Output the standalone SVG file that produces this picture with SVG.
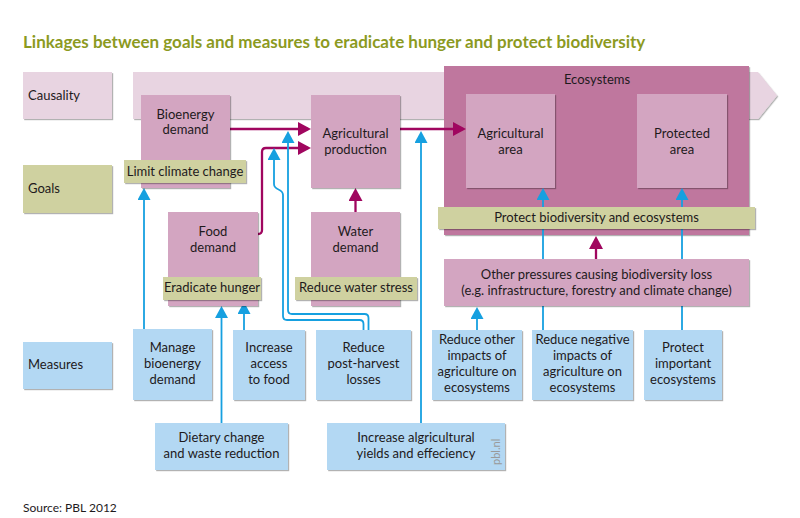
<svg xmlns="http://www.w3.org/2000/svg" width="800" height="518" viewBox="0 0 800 518">
<defs>
<style>
text{font-family:Lato,"Liberation Sans",sans-serif;font-size:13px;fill:#1e1a1c}
.c{text-anchor:middle}
.title{font-size:17px;font-weight:bold;fill:#8c9a1f}
.band{fill:#e8d4e1}
.pink{fill:#d3a5c1}
.eco{fill:#bf779e}
.goal{fill:#cfd1a0}
.meas{fill:#b3d8f3}
.lab{filter:url(#sh)}
.mag{fill:none;stroke:#a0065f;stroke-width:2.3;marker-end:url(#am)}
.blu{fill:none;stroke:#16a0e0;stroke-width:1.8;marker-end:url(#ab)}
</style>
<filter id="sh" x="-5%" y="-5%" width="115%" height="120%">
<feDropShadow dx="1.2" dy="1.2" stdDeviation="0.4" flood-color="#000" flood-opacity="0.3"/>
</filter>
<marker id="am" viewBox="0 0 13 14" refX="10" refY="7" markerWidth="13" markerHeight="14" orient="auto" markerUnits="userSpaceOnUse">
<path d="M0,0 L13,7 L0,14 z" fill="#a0065f"/>
</marker>
<marker id="ab" viewBox="0 0 12 13" refX="9" refY="6.5" markerWidth="12" markerHeight="13" orient="auto" markerUnits="userSpaceOnUse">
<path d="M0,0 L12,6.5 L0,13 z" fill="#16a0e0"/>
</marker>
</defs>
<rect width="800" height="518" fill="#fff"/>
<text class="title" x="23" y="48">Linkages between goals and measures to eradicate hunger and protect biodiversity</text>

<g id="row-causality"><rect class="band lab" x="23" y="72" width="89" height="47"/><text x="28" y="100">Causality</text></g>
<g id="row-goals"><rect class="goal lab" x="23" y="165" width="89" height="48"/><text x="28" y="193">Goals</text></g>
<g id="row-measures"><rect class="meas lab" x="23" y="342" width="89" height="47"/><text x="28" y="369">Measures</text></g>

<g id="causality-band"><path class="band lab" d="M133,72 H758 L777,95.5 L758,119 H133 Z"/></g>

<g id="ecosystems">
<rect class="eco lab" x="444" y="66" width="305" height="169"/>
<text class="c" x="597" y="84">Ecosystems</text>
</g>
<g id="agricultural-area"><rect class="pink lab" x="466" y="94" width="89" height="94"/><text class="c" x="510.5" y="138">Agricultural</text><text class="c" x="510.5" y="154">area</text></g>
<g id="protected-area"><rect class="pink lab" x="637" y="94" width="90" height="94"/><text class="c" x="682" y="138">Protected</text><text class="c" x="682" y="154">area</text></g>

<g id="connectors">
<path class="mag" d="M230,129 H308"/>
<path class="mag" d="M258,234 H258 Q262,234 262,230 V152 Q262,148 266,148 H308"/>
<path class="mag" d="M355.5,212 V191"/>
<path class="mag" d="M400,129 H463"/>
<path class="mag" d="M596,259 V239"/>
<path class="blu" d="M144,329 V191"/>
<path class="blu" d="M221.5,423 V309"/>
<path class="blu" d="M244,330 V305"/>
<path class="blu" d="M363.5,330 V324 Q363.5,320 359.5,320 H287 Q283,320 283,316 V195 C283,188 274,191 274,184 V151"/>
<path class="blu" d="M368.5,330 V318 Q368.5,314 364.5,314 H292 Q288,314 288,310 V134"/>
<path class="blu" d="M421,423 V134"/>
<path class="blu" d="M477,330 V310"/>
<path class="blu" d="M543,330 V191"/>
<path class="blu" d="M682,330 V191"/>
</g>

<g id="bioenergy-demand"><rect class="pink lab" x="141" y="95" width="89" height="93"/><text class="c" x="185.5" y="119">Bioenergy</text><text class="c" x="185.5" y="134">demand</text></g>
<g id="limit-climate-change"><rect class="goal lab" x="124" y="160" width="122" height="23"/><text class="c" x="185" y="176">Limit climate change</text></g>
<g id="agricultural-production"><rect class="pink lab" x="311" y="95" width="89" height="93"/><text class="c" x="355.5" y="138">Agricultural</text><text class="c" x="355.5" y="154">production</text></g>
<g id="food-demand"><rect class="pink lab" x="168" y="212" width="90" height="94"/><text class="c" x="213" y="236">Food</text><text class="c" x="213" y="252">demand</text></g>
<g id="eradicate-hunger"><rect class="goal lab" x="163" y="277" width="98" height="23"/><text class="c" x="212" y="292">Eradicate hunger</text></g>
<g id="water-demand"><rect class="pink lab" x="311" y="212" width="89" height="94"/><text class="c" x="355.5" y="236">Water</text><text class="c" x="355.5" y="252">demand</text></g>
<g id="reduce-water-stress"><rect class="goal lab" x="295" y="277" width="122" height="23"/><text class="c" x="356" y="292">Reduce water stress</text></g>
<g id="protect-biodiversity"><rect class="goal lab" x="438" y="207" width="317" height="22"/><text class="c" x="596.5" y="222">Protect biodiversity and ecosystems</text></g>
<g id="other-pressures"><rect class="pink lab" x="444" y="259" width="305" height="47"/><text class="c" x="596.5" y="279">Other pressures causing biodiversity loss</text><text class="c" x="596.5" y="295">(e.g. infrastructure, forestry and climate change)</text></g>

<g id="manage-bioenergy"><rect class="meas lab" x="133" y="329" width="79" height="71"/><text class="c" x="172.5" y="352">Manage</text><text class="c" x="172.5" y="368">bioenergy</text><text class="c" x="172.5" y="384">demand</text></g>
<g id="increase-access"><rect class="meas lab" x="233" y="330" width="72" height="70"/><text class="c" x="269" y="352">Increase</text><text class="c" x="269" y="368">access</text><text class="c" x="269" y="384">to food</text></g>
<g id="reduce-post-harvest"><rect class="meas lab" x="316" y="330" width="95" height="70"/><text class="c" x="363.5" y="352">Reduce</text><text class="c" x="363.5" y="368">post-harvest</text><text class="c" x="363.5" y="384">losses</text></g>
<g id="reduce-other-impacts"><rect class="meas lab" x="432" y="330" width="90" height="70"/><text class="c" x="477" y="344">Reduce other</text><text class="c" x="477" y="360">impacts of</text><text class="c" x="477" y="376">agriculture on</text><text class="c" x="477" y="392">ecosystems</text></g>
<g id="reduce-negative-impacts"><rect class="meas lab" x="532" y="330" width="101" height="70"/><text class="c" x="582.5" y="344">Reduce negative</text><text class="c" x="582.5" y="360">impacts of</text><text class="c" x="582.5" y="376">agriculture on</text><text class="c" x="582.5" y="392">ecosystems</text></g>
<g id="protect-important"><rect class="meas lab" x="644" y="330" width="78" height="70"/><text class="c" x="683" y="352">Protect</text><text class="c" x="683" y="368">important</text><text class="c" x="683" y="384">ecosystems</text></g>
<g id="dietary-change"><rect class="meas lab" x="155" y="423" width="133" height="47"/><text class="c" x="221.5" y="442">Dietary change</text><text class="c" x="221.5" y="458">and waste reduction</text></g>
<g id="increase-yields"><rect class="meas lab" x="327" y="423" width="178" height="47"/><text class="c" x="416" y="442">Increase algricultural</text><text class="c" x="416" y="458">yields and effeciency</text><text x="500" y="465" transform="rotate(-90 500 465)" style="font-size:11px;fill:#9a9a9a">pbl.nl</text></g>

<text x="23" y="512" style="font-size:12px">Source: PBL 2012</text>
</svg>
